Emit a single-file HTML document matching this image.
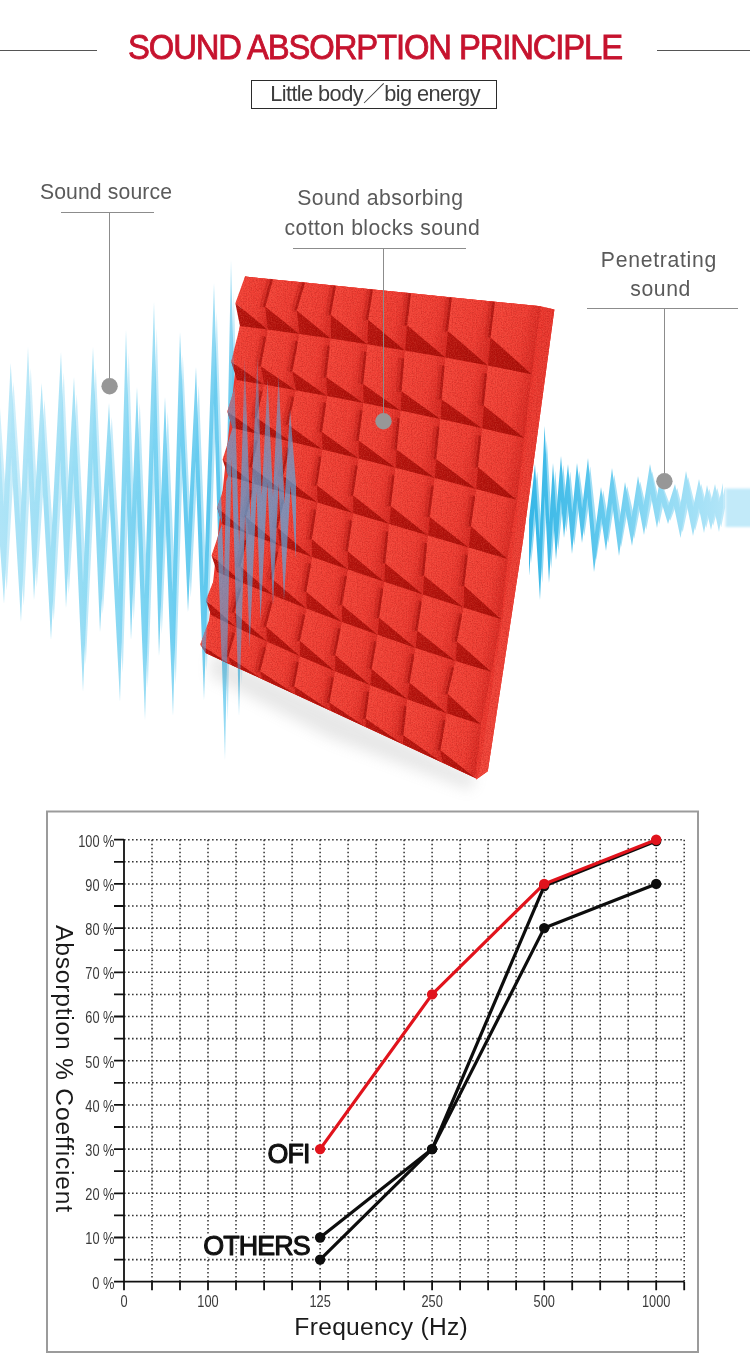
<!DOCTYPE html>
<html lang="en"><head><meta charset="utf-8"><title>Sound absorption principle</title>
<style>
html,body{margin:0;padding:0;background:#fff}
body{width:750px;height:1360px;position:relative;overflow:hidden;font-family:"Liberation Sans","Noto Sans CJK SC",sans-serif}
.hl{position:absolute;height:1px;background:#555}
#title{position:absolute;left:127.8px;top:27.1px;font-size:35.3px;line-height:40px;color:#c6132e;letter-spacing:-1.2px;white-space:nowrap;-webkit-text-stroke:0.85px #c6132e;transform:scaleX(0.929);transform-origin:0 0}
#sub{position:absolute;left:251px;top:80px;width:244px;height:27px;border:1px solid #2b2b2b;box-sizing:content-box;font-size:21.8px;line-height:27px;color:#3d3d3d;white-space:nowrap;letter-spacing:-0.6px}
#sub span{position:absolute;left:18.2px;top:-1.3px}
.lab{position:absolute;text-align:center;font-size:21.2px;line-height:28px;color:#5a5a5a;white-space:nowrap}
svg{position:absolute;left:0;top:0}
.tk{font-size:15.6px;fill:#3a3a3a;font-family:"Liberation Sans",sans-serif}
.axt{font-size:24.6px;fill:#1a1a1a;font-family:"Liberation Sans",sans-serif}
.big{font-size:27.3px;font-family:"Liberation Sans",sans-serif;letter-spacing:-0.9px}
.big{fill:#111;stroke:#111;stroke-width:1.1px;stroke-linejoin:round}
</style></head>
<body>
<svg width="750" height="1360" viewBox="0 0 750 1360">
<defs>
<filter id="blur8" x="-30%" y="-30%" width="160%" height="160%"><feGaussianBlur stdDeviation="7"/></filter>
<filter id="grain" x="0" y="0" width="100%" height="100%" color-interpolation-filters="sRGB"><feTurbulence type="fractalNoise" baseFrequency="0.85" numOctaves="2" seed="7" result="n"/><feColorMatrix in="n" type="matrix" values="0 0 0 0 1  0 0 0 0 0.55  0 0 0 0 0.45  0 0 0 1.6 -0.62"/></filter>
<filter id="grain2" x="0" y="0" width="100%" height="100%" color-interpolation-filters="sRGB"><feTurbulence type="fractalNoise" baseFrequency="0.8" numOctaves="2" seed="23" result="n"/><feColorMatrix in="n" type="matrix" values="0 0 0 0 0.55  0 0 0 0 0.02  0 0 0 0 0.02  0 0 0 1.6 -0.66"/></filter>
<filter id="halo" x="-10%" y="-10%" width="120%" height="120%" color-interpolation-filters="sRGB"><feMorphology in="SourceAlpha" operator="dilate" radius="2.4" result="d"/><feGaussianBlur in="d" stdDeviation="0.6" result="b"/><feFlood flood-color="#fff"/><feComposite in2="b" operator="in" result="h"/><feMerge><feMergeNode in="h"/><feMergeNode in="h"/><feMergeNode in="SourceGraphic"/></feMerge></filter>
<filter id="blur1" x="-30%" y="-30%" width="160%" height="160%"><feGaussianBlur stdDeviation="1.2"/></filter>
<linearGradient id="gT" x1="0" y1="0" x2="1" y2="0.3"><stop offset="0" stop-color="#f5473b"/><stop offset="0.7" stop-color="#ef3d33"/><stop offset="1" stop-color="#d92b24"/></linearGradient>
<linearGradient id="gR" x1="0" y1="0" x2="1" y2="0"><stop offset="0" stop-color="#ee3a34"/><stop offset="0.7" stop-color="#e8342e"/><stop offset="1" stop-color="#d22a24"/></linearGradient>
<linearGradient id="gB" x1="0" y1="0" x2="1" y2="0.4"><stop offset="0" stop-color="#b9150f"/><stop offset="1" stop-color="#aa0e08"/></linearGradient>
<linearGradient id="gside" x1="0" y1="0" x2="1" y2="0"><stop offset="0" stop-color="#f3473c"/><stop offset="1" stop-color="#e9372e"/></linearGradient>
<linearGradient id="gwL" gradientUnits="userSpaceOnUse" x1="0" y1="0" x2="245" y2="0"><stop offset="0" stop-color="#aee4f7"/><stop offset="0.4" stop-color="#8cd9f3"/><stop offset="0.7" stop-color="#6acdf0"/><stop offset="1" stop-color="#4cc0eb"/></linearGradient>
<linearGradient id="gwPale" gradientUnits="userSpaceOnUse" x1="0" y1="0" x2="245" y2="0"><stop offset="0" stop-color="#c9edfa"/><stop offset="0.5" stop-color="#bce8f9"/><stop offset="1" stop-color="#a5e0f6"/></linearGradient>
<linearGradient id="gmL" gradientUnits="userSpaceOnUse" x1="0" y1="255" x2="0" y2="770"><stop offset="0" stop-color="#fff" stop-opacity="0.45"/><stop offset="0.25" stop-color="#fff" stop-opacity="0.8"/><stop offset="0.5" stop-color="#fff" stop-opacity="1"/><stop offset="0.75" stop-color="#fff" stop-opacity="0.95"/><stop offset="1" stop-color="#fff" stop-opacity="0.45"/></linearGradient>
<mask id="mL" maskUnits="userSpaceOnUse" x="-10" y="200" width="400" height="620"><rect x="-10" y="200" width="400" height="620" fill="url(#gmL)"/></mask>
<linearGradient id="gwP" gradientUnits="userSpaceOnUse" x1="0" y1="340" x2="0" y2="770"><stop offset="0" stop-color="#4cb2ee" stop-opacity="0.2"/><stop offset="0.2" stop-color="#52b0ea" stop-opacity="0.58"/><stop offset="0.4" stop-color="#52b0ea" stop-opacity="0.68"/><stop offset="0.55" stop-color="#52b0ea" stop-opacity="0.62"/><stop offset="0.75" stop-color="#4cb2ee" stop-opacity="0.5"/><stop offset="1" stop-color="#4cb2ee" stop-opacity="0.42"/></linearGradient>
<linearGradient id="gwR" gradientUnits="userSpaceOnUse" x1="525" y1="0" x2="730" y2="0"><stop offset="0" stop-color="#35b6e6"/><stop offset="0.3" stop-color="#55c4ec"/><stop offset="0.6" stop-color="#8ad8f3"/><stop offset="1" stop-color="#b5e6f8"/></linearGradient>
<linearGradient id="gwRp" gradientUnits="userSpaceOnUse" x1="525" y1="0" x2="730" y2="0"><stop offset="0" stop-color="#8fd8f3"/><stop offset="0.5" stop-color="#a8e1f6"/><stop offset="1" stop-color="#c2ebfa"/></linearGradient>
<clipPath id="cpanel"><polygon points="245,276.6 273,279.4 305,282.6 336,285.7 373,289.5 411,293.3 452,297.4 495,301.7 540.8,306.3 554.4,309.6 523.1,540 487.8,771.2 476.2,779.6 475.4,777.9 442.2,762.5 402.9,744.3 365.7,727.1 330.6,710.8 295.4,694.5 262.3,679.2 231.3,664.9 205.7,653 200.2,644.4 211,615 205.9,600.2 217,572 211.6,555.6 222,524 217.2,507.6 228,476 222.6,459.6 232.5,428 227.3,411.6 237,380 231.2,361.7 240,326 235.4,303.2 245,276.6"/></clipPath>
</defs>

<g id="wavesback"><polygon points="-1.2,389.8 6.4,504.7 13.5,381.8 23,520.2 30.8,367.8 37.5,502.6 44.5,399.4 53.6,543.2 63.8,372.2 69.7,507.5 76.8,394.2 85.8,574.8 95.8,367.8 103.6,539.4 111.8,417 121.6,584.4 128.8,352.8 134.4,522.5 139.8,403 147.5,591.5 156.8,328.2 162.5,534.7 167.8,411.8 175.3,592.8 182.8,354.6 191,533 198.8,385.4 206.7,591 216.8,311.4 227.1,619.7 233.8,291.2 241.8,588.9 247.6,377.4 252.8,554.7 260.3,376.6 264.1,531.6 270.4,395.9 275.8,528.1 281.4,392.4 287.1,531.4 292.8,422.3 298.8,488 298.8,553.6 293.1,466.5 286.8,587.2 281.4,455.6 275.8,591.4 270.2,455.4 263.3,604.8 259.6,454.9 252.4,627.5 247.7,468.8 241.8,684.6 234.2,404.3 227.8,721.6 216.7,393.9 206.8,671.2 198.3,453 190.8,597.3 183.4,438.8 175.8,684.6 167.8,493.4 161.8,634.2 156.4,441.6 147.8,688 139.6,490.5 133.8,620.8 128.9,474.4 122.8,672.9 111.6,482.3 102.8,614.1 95.7,458.9 85.8,664.5 76.3,474.2 68.8,593.9 63.1,463 53.8,620.8 44.4,473.9 36.8,587.2 30.8,467.7 23.8,605.7 14,464.6 6.8,590.6 -1.2,490.2" fill="url(#gwPale)" mask="url(#mL)"/><polygon points="-4,372 3.6,506.4 10.7,363 20.2,523.8 28,347 34.7,502.1 41.7,383 50.8,548.6 61,352 66.9,505.7 74,377 83,583.1 93,347 100.9,540.4 109,403 118.7,590.4 126,330 131.7,517.1 137,387 144.7,595 154,302 159.9,527.4 165,397 172.4,593 180,332 188.3,524.5 196,367 203.9,586.6 214,283 224.1,610.1 231,260 239.1,574.1 244.8,358 250.2,542.1 257.5,357 261.5,517.5 267.6,379 273,516.4 278.6,375 284.4,522.7 290,409 296,484.5 296,560 290.4,469.9 284,600 278.6,462.8 273,605 267.4,463.6 260.5,621 256.7,468.4 249.6,648 245,489.9 239,716 231.5,425.9 225,760 213.9,403 204,700 195.4,460.7 188,612 180.8,445.2 173,716 164.9,504.7 159,656 153.6,448.7 145,720 136.8,498.4 131,640 126.2,481.2 120,702 108.7,484.5 100,632 92.9,458.1 83,692 73.4,472.9 66,608 60.3,459.3 51,640 41.6,469.9 34,600 28,462.1 21,622 11.2,457.5 4,604 -4,488" fill="url(#gwL)" mask="url(#mL)"/><polygon points="531.2,517.5 537.2,471.6 541.7,532.9 546.8,440.4 551.6,519 555.2,470.7 558.5,511.5 563.2,465 566.6,499.6 570.2,471.6 574.4,511.2 579.2,470.7 584.3,507.7 590.2,466.6 597,528.7 603.2,490.4 607.8,516.1 614.2,474.8 621.4,519.1 627.2,486.3 633.8,515.1 640.2,481.4 645.7,505.2 652.2,471.6 658.9,499.7 662.2,483.9 670.3,505.8 677.2,488 682.1,506.9 688.2,477.3 695.4,506.4 701.2,483.9 706,502.4 709.2,488.8 713.1,502.6 717.2,488 721.1,502.5 725.2,487.1 725.2,507.2 721.2,527.3 717.1,511.9 713.2,525.7 709.7,513.4 706.2,528.1 701.1,508.1 695.2,530.6 688.7,503.8 682.7,532.2 676,505.9 670.2,520.8 663.7,502.9 659.2,524 652.7,496.3 646.2,529.8 640.6,505.5 634.2,538.8 627.8,510.3 621.2,547 614.3,503.9 608.2,542.9 603.4,516.1 596.2,560.1 589.6,499.2 584.2,536.3 579.5,501.5 574.2,545.4 569.8,503.8 566.2,532.2 563.2,501.3 558.2,550.3 555.3,514.9 551.2,569.1 546.9,497.9 542.2,583.1 536.7,507.9 531.2,563.4" fill="url(#gwRp)"/><polygon points="529,520 535,464 539.5,539.4 544.6,426 549.4,522.5 553,463 556.3,513.2 561,456 564.4,498.7 568,464 572.2,512.8 577,463 582.1,508.6 588,458 594.8,534.3 601,487 605.7,518.8 612,468 619.2,522.6 625,482 631.6,517.6 638,476 643.5,505.6 650,464 656.7,498.8 660,479 668.1,506.1 675,484 679.9,507.6 686,471 693.2,507 699,479 703.8,502.1 707,485 710.9,502.3 715,484 718.9,502.2 723,483 723,507.5 719,532 714.9,512.8 711,530 707.5,514.6 704,533 698.9,508 693,536 686.4,502.7 680.5,538 673.8,505.5 668,524 661.4,501.9 657,528 650.5,493.7 644,535 638.4,504.9 632,546 625.5,510.7 619,556 612.1,502.8 606,551 601.2,517.8 594,572 587.4,497.2 582,543 577.2,500 572,554 567.6,502.9 564,538 560.9,499.8 556,560 553.1,516.4 549,583 544.7,495.4 540,600 534.5,507.9 529,576" fill="url(#gwR)"/><rect x="725.5" y="488.5" width="30" height="38.5" fill="#bfe9f9" opacity="0.95" filter="url(#blur1)"/></g>
<g id="panel"><polygon points="212,652 476,776 470,790 330,738 210,676" fill="#8a8a8a" opacity="0.2" filter="url(#blur8)"/><polygon points="245,276.6 540.8,306.3 554.4,309.6 523.1,540 487.8,771.2 476.2,779.6 475.4,777.9 205.7,653" fill="#ec382f"/><polygon points="545.5,307.4 554.4,309.6 523.1,540 487.8,771.2 476.2,779.6 479.5,771 514.5,540" fill="url(#gside)"/><polygon points="245,276.6 273,279.4 305,282.6 336,285.7 373,289.5 411,293.3 452,297.4 495,301.7 540.8,306.3 531.9,374.4 524.4,438.1 516.9,500 507.5,559 501.2,619.3 491.6,671.9 481.1,724.4 475.4,777.9 442.2,762.5 402.9,744.3 365.7,727.1 330.6,710.8 295.4,694.5 262.3,679.2 231.3,664.9 205.7,653 211,615 217,572 222,524 228,476 232.5,428 237,380 240,326" fill="#ee3b32"/><polygon points="211,615 236.6,627.4 231.3,664.9 200.2,644.4" fill="url(#gT)"/><polygon points="200.2,644.4 205.7,653 231.3,664.9" fill="url(#gB)"/><polygon points="236.6,627.4 267.5,641.8 262.3,679.2 228.4,656.8" fill="url(#gT)"/><polygon points="228.4,656.8 231.3,664.9 262.3,679.2" fill="url(#gB)"/><path d="M231.6 634.9L225.8 654.8" stroke="#a5120d" stroke-opacity="0.22" stroke-width="6" stroke-linecap="round" fill="none"/><path d="M233.5 633.9L227.3 655.8" stroke="#a5120d" stroke-opacity="0.68" stroke-width="2.4" stroke-linecap="round" fill="none"/><polygon points="267.5,641.8 300,656.3 295.4,694.5 260.3,671.3" fill="url(#gT)"/><polygon points="260.3,671.3 262.3,679.2 295.4,694.5" fill="url(#gB)"/><path d="M262.7 649.3L257.7 669.3" stroke="#a5120d" stroke-opacity="0.22" stroke-width="6" stroke-linecap="round" fill="none"/><path d="M264.6 648.3L259.2 670.3" stroke="#a5120d" stroke-opacity="0.68" stroke-width="2.4" stroke-linecap="round" fill="none"/><polygon points="300,656.3 335.1,671.2 330.6,710.8 294.3,686.6" fill="url(#gT)"/><polygon points="294.3,686.6 295.4,694.5 330.6,710.8" fill="url(#gB)"/><path d="M295.5 664L291.7 684.6" stroke="#a5120d" stroke-opacity="0.22" stroke-width="6" stroke-linecap="round" fill="none"/><path d="M297.4 663L293.2 685.6" stroke="#a5120d" stroke-opacity="0.68" stroke-width="2.4" stroke-linecap="round" fill="none"/><polygon points="335.1,671.2 370.2,685.3 365.7,727.1 329.4,702.6" fill="url(#gT)"/><polygon points="329.4,702.6 330.6,710.8 365.7,727.1" fill="url(#gB)"/><path d="M330.6 679.1L326.8 700.6" stroke="#a5120d" stroke-opacity="0.22" stroke-width="6" stroke-linecap="round" fill="none"/><path d="M332.5 678.1L328.3 701.6" stroke="#a5120d" stroke-opacity="0.68" stroke-width="2.4" stroke-linecap="round" fill="none"/><polygon points="370.2,685.3 407.4,699.3 402.9,744.3 365.6,718.6" fill="url(#gT)"/><polygon points="365.6,718.6 365.7,727.1 402.9,744.3" fill="url(#gB)"/><path d="M366 693.6L363 716.6" stroke="#a5120d" stroke-opacity="0.22" stroke-width="6" stroke-linecap="round" fill="none"/><path d="M367.9 692.6L364.5 717.6" stroke="#a5120d" stroke-opacity="0.68" stroke-width="2.4" stroke-linecap="round" fill="none"/><polygon points="407.4,699.3 446.8,713.2 442.2,762.5 403.3,735.3" fill="url(#gT)"/><polygon points="403.3,735.3 402.9,744.3 442.2,762.5" fill="url(#gB)"/><path d="M403.3 708.2L400.7 733.3" stroke="#a5120d" stroke-opacity="0.22" stroke-width="6" stroke-linecap="round" fill="none"/><path d="M405.2 707.2L402.2 734.3" stroke="#a5120d" stroke-opacity="0.68" stroke-width="2.4" stroke-linecap="round" fill="none"/><polygon points="446.8,713.2 481.1,724.4 475.4,777.9 440.4,750.2" fill="url(#gT)"/><polygon points="440.4,750.2 442.2,762.5 475.4,777.9" fill="url(#gB)"/><path d="M442.2 722.3L437.8 748.2" stroke="#a5120d" stroke-opacity="0.22" stroke-width="6" stroke-linecap="round" fill="none"/><path d="M444.1 721.3L439.3 749.2" stroke="#a5120d" stroke-opacity="0.68" stroke-width="2.4" stroke-linecap="round" fill="none"/><polygon points="217,572 243,583 236.6,627.4 205.9,600.2" fill="url(#gT)"/><polygon points="205.9,600.2 211,615 236.6,627.4" fill="url(#gB)"/><polygon points="243,583 274.2,595.8 267.5,641.8 234.3,612.6" fill="url(#gT)"/><polygon points="234.3,612.6 236.6,627.4 267.5,641.8" fill="url(#gB)"/><path d="M237.9 590.5L231.7 610.6" stroke="#a5120d" stroke-opacity="0.22" stroke-width="6" stroke-linecap="round" fill="none"/><path d="M239.8 589.5L233.2 611.6" stroke="#a5120d" stroke-opacity="0.68" stroke-width="2.4" stroke-linecap="round" fill="none"/><polygon points="274.2,595.8 306.6,608.6 300,656.3 266.1,626.6" fill="url(#gT)"/><polygon points="266.1,626.6 267.5,641.8 300,656.3" fill="url(#gB)"/><path d="M269.2 603.5L263.5 624.6" stroke="#a5120d" stroke-opacity="0.22" stroke-width="6" stroke-linecap="round" fill="none"/><path d="M271.1 602.5L265 625.6" stroke="#a5120d" stroke-opacity="0.68" stroke-width="2.4" stroke-linecap="round" fill="none"/><polygon points="306.6,608.6 342.1,622 335.1,671.2 299.9,640.7" fill="url(#gT)"/><polygon points="299.9,640.7 300,656.3 335.1,671.2" fill="url(#gB)"/><path d="M301.9 616.6L297.3 638.7" stroke="#a5120d" stroke-opacity="0.22" stroke-width="6" stroke-linecap="round" fill="none"/><path d="M303.8 615.6L298.8 639.7" stroke="#a5120d" stroke-opacity="0.68" stroke-width="2.4" stroke-linecap="round" fill="none"/><polygon points="342.1,622 377.7,634.8 370.2,685.3 335.3,655.1" fill="url(#gT)"/><polygon points="335.3,655.1 335.1,671.2 370.2,685.3" fill="url(#gB)"/><path d="M337.4 630.3L332.7 653.1" stroke="#a5120d" stroke-opacity="0.22" stroke-width="6" stroke-linecap="round" fill="none"/><path d="M339.3 629.3L334.2 654.1" stroke="#a5120d" stroke-opacity="0.68" stroke-width="2.4" stroke-linecap="round" fill="none"/><polygon points="377.7,634.8 415.6,647.9 407.4,699.3 371.7,669" fill="url(#gT)"/><polygon points="371.7,669 370.2,685.3 407.4,699.3" fill="url(#gB)"/><path d="M373.2 643.4L369.1 667" stroke="#a5120d" stroke-opacity="0.22" stroke-width="6" stroke-linecap="round" fill="none"/><path d="M375.1 642.4L370.6 668" stroke="#a5120d" stroke-opacity="0.68" stroke-width="2.4" stroke-linecap="round" fill="none"/><polygon points="415.6,647.9 455.6,660.9 446.8,713.2 409.6,682.8" fill="url(#gT)"/><polygon points="409.6,682.8 407.4,699.3 446.8,713.2" fill="url(#gB)"/><path d="M411.1 656.5L407 680.8" stroke="#a5120d" stroke-opacity="0.22" stroke-width="6" stroke-linecap="round" fill="none"/><path d="M413 655.5L408.5 681.8" stroke="#a5120d" stroke-opacity="0.68" stroke-width="2.4" stroke-linecap="round" fill="none"/><polygon points="455.6,660.9 491.6,671.9 481.1,724.4 447.8,694" fill="url(#gT)"/><polygon points="447.8,694 446.8,713.2 481.1,724.4" fill="url(#gB)"/><path d="M450.7 669.2L445.2 692" stroke="#a5120d" stroke-opacity="0.22" stroke-width="6" stroke-linecap="round" fill="none"/><path d="M452.6 668.2L446.7 693" stroke="#a5120d" stroke-opacity="0.68" stroke-width="2.4" stroke-linecap="round" fill="none"/><polygon points="222,524 248.5,533.9 243,583 211.6,555.6" fill="url(#gT)"/><polygon points="211.6,555.6 217,572 243,583" fill="url(#gB)"/><polygon points="248.5,533.9 279.9,545.4 274.2,595.8 240.4,566.6" fill="url(#gT)"/><polygon points="240.4,566.6 243,583 274.2,595.8" fill="url(#gB)"/><path d="M243.5 542.1L237.8 564.6" stroke="#a5120d" stroke-opacity="0.22" stroke-width="6" stroke-linecap="round" fill="none"/><path d="M245.4 541.1L239.3 565.6" stroke="#a5120d" stroke-opacity="0.68" stroke-width="2.4" stroke-linecap="round" fill="none"/><polygon points="279.9,545.4 312.2,557 306.6,608.6 272.2,579.1" fill="url(#gT)"/><polygon points="272.2,579.1 274.2,595.8 306.6,608.6" fill="url(#gB)"/><path d="M275 553.8L269.6 577.1" stroke="#a5120d" stroke-opacity="0.22" stroke-width="6" stroke-linecap="round" fill="none"/><path d="M276.9 552.8L271.1 578.1" stroke="#a5120d" stroke-opacity="0.68" stroke-width="2.4" stroke-linecap="round" fill="none"/><polygon points="312.2,557 348.1,569.5 342.1,622 306.3,591.7" fill="url(#gT)"/><polygon points="306.3,591.7 306.6,608.6 342.1,622" fill="url(#gB)"/><path d="M307.7 565.6L303.7 589.7" stroke="#a5120d" stroke-opacity="0.22" stroke-width="6" stroke-linecap="round" fill="none"/><path d="M309.6 564.6L305.2 590.7" stroke="#a5120d" stroke-opacity="0.68" stroke-width="2.4" stroke-linecap="round" fill="none"/><polygon points="348.1,569.5 384.3,581.8 377.7,634.8 342,604.9" fill="url(#gT)"/><polygon points="342,604.9 342.1,622 377.7,634.8" fill="url(#gB)"/><path d="M343.6 578.3L339.4 602.9" stroke="#a5120d" stroke-opacity="0.22" stroke-width="6" stroke-linecap="round" fill="none"/><path d="M345.5 577.3L340.9 603.9" stroke="#a5120d" stroke-opacity="0.68" stroke-width="2.4" stroke-linecap="round" fill="none"/><polygon points="384.3,581.8 422.9,594.6 415.6,647.9 379.1,617.8" fill="url(#gT)"/><polygon points="379.1,617.8 377.7,634.8 415.6,647.9" fill="url(#gB)"/><path d="M380 590.7L376.5 615.8" stroke="#a5120d" stroke-opacity="0.22" stroke-width="6" stroke-linecap="round" fill="none"/><path d="M381.9 589.7L378 616.8" stroke="#a5120d" stroke-opacity="0.68" stroke-width="2.4" stroke-linecap="round" fill="none"/><polygon points="422.9,594.6 463.5,607.6 455.6,660.9 417.4,630.7" fill="url(#gT)"/><polygon points="417.4,630.7 415.6,647.9 455.6,660.9" fill="url(#gB)"/><path d="M418.5 603.5L414.8 628.7" stroke="#a5120d" stroke-opacity="0.22" stroke-width="6" stroke-linecap="round" fill="none"/><path d="M420.4 602.5L416.3 629.7" stroke="#a5120d" stroke-opacity="0.68" stroke-width="2.4" stroke-linecap="round" fill="none"/><polygon points="463.5,607.6 501.2,619.3 491.6,671.9 457,641.5" fill="url(#gT)"/><polygon points="457,641.5 455.6,660.9 491.6,671.9" fill="url(#gB)"/><path d="M458.9 616.1L454.4 639.5" stroke="#a5120d" stroke-opacity="0.22" stroke-width="6" stroke-linecap="round" fill="none"/><path d="M460.8 615.1L455.9 640.5" stroke="#a5120d" stroke-opacity="0.68" stroke-width="2.4" stroke-linecap="round" fill="none"/><polygon points="228,476 254.5,483.9 248.5,533.9 217.2,507.6" fill="url(#gT)"/><polygon points="217.2,507.6 222,524 248.5,533.9" fill="url(#gB)"/><polygon points="254.5,483.9 285.7,493.1 279.9,545.4 246.1,517.2" fill="url(#gT)"/><polygon points="246.1,517.2 248.5,533.9 279.9,545.4" fill="url(#gB)"/><path d="M249.5 492.2L243.5 515.2" stroke="#a5120d" stroke-opacity="0.22" stroke-width="6" stroke-linecap="round" fill="none"/><path d="M251.4 491.2L245 516.2" stroke="#a5120d" stroke-opacity="0.68" stroke-width="2.4" stroke-linecap="round" fill="none"/><polygon points="285.7,493.1 317.5,502.6 312.2,557 277.8,528.1" fill="url(#gT)"/><polygon points="277.8,528.1 279.9,545.4 312.2,557" fill="url(#gB)"/><path d="M280.8 501.8L275.2 526.1" stroke="#a5120d" stroke-opacity="0.22" stroke-width="6" stroke-linecap="round" fill="none"/><path d="M282.7 500.8L276.7 527.1" stroke="#a5120d" stroke-opacity="0.68" stroke-width="2.4" stroke-linecap="round" fill="none"/><polygon points="317.5,502.6 353.2,513.2 348.1,569.5 311.8,539.3" fill="url(#gT)"/><polygon points="311.8,539.3 312.2,557 348.1,569.5" fill="url(#gB)"/><path d="M313 511.6L309.2 537.3" stroke="#a5120d" stroke-opacity="0.22" stroke-width="6" stroke-linecap="round" fill="none"/><path d="M314.9 510.6L310.7 538.3" stroke="#a5120d" stroke-opacity="0.68" stroke-width="2.4" stroke-linecap="round" fill="none"/><polygon points="353.2,513.2 389.3,523.9 384.3,581.8 347.7,551.2" fill="url(#gT)"/><polygon points="347.7,551.2 348.1,569.5 384.3,581.8" fill="url(#gB)"/><path d="M348.8 522.5L345.1 549.2" stroke="#a5120d" stroke-opacity="0.22" stroke-width="6" stroke-linecap="round" fill="none"/><path d="M350.7 521.5L346.6 550.2" stroke="#a5120d" stroke-opacity="0.68" stroke-width="2.4" stroke-linecap="round" fill="none"/><polygon points="389.3,523.9 428,535.4 422.9,594.6 385.1,563.2" fill="url(#gT)"/><polygon points="385.1,563.2 384.3,581.8 422.9,594.6" fill="url(#gB)"/><path d="M385.2 533.6L382.5 561.2" stroke="#a5120d" stroke-opacity="0.22" stroke-width="6" stroke-linecap="round" fill="none"/><path d="M387.1 532.6L384 562.2" stroke="#a5120d" stroke-opacity="0.68" stroke-width="2.4" stroke-linecap="round" fill="none"/><polygon points="428,535.4 468.7,547.5 463.5,607.6 424,575.6" fill="url(#gT)"/><polygon points="424,575.6 422.9,594.6 463.5,607.6" fill="url(#gB)"/><path d="M423.9 545.2L421.4 573.6" stroke="#a5120d" stroke-opacity="0.22" stroke-width="6" stroke-linecap="round" fill="none"/><path d="M425.8 544.2L422.9 574.6" stroke="#a5120d" stroke-opacity="0.68" stroke-width="2.4" stroke-linecap="round" fill="none"/><polygon points="468.7,547.5 507.5,559 501.2,619.3 464.2,585.8" fill="url(#gT)"/><polygon points="464.2,585.8 463.5,607.6 501.2,619.3" fill="url(#gB)"/><path d="M464.5 556.9L461.6 583.8" stroke="#a5120d" stroke-opacity="0.22" stroke-width="6" stroke-linecap="round" fill="none"/><path d="M466.4 555.9L463.1 584.8" stroke="#a5120d" stroke-opacity="0.68" stroke-width="2.4" stroke-linecap="round" fill="none"/><polygon points="232.5,428 259.5,434.3 254.5,483.9 222.6,459.6" fill="url(#gT)"/><polygon points="222.6,459.6 228,476 254.5,483.9" fill="url(#gB)"/><polygon points="259.5,434.3 291,441.8 285.7,493.1 251.7,467.3" fill="url(#gT)"/><polygon points="251.7,467.3 254.5,483.9 285.7,493.1" fill="url(#gB)"/><path d="M254.5 442.6L249.1 465.3" stroke="#a5120d" stroke-opacity="0.22" stroke-width="6" stroke-linecap="round" fill="none"/><path d="M256.4 441.6L250.6 466.3" stroke="#a5120d" stroke-opacity="0.68" stroke-width="2.4" stroke-linecap="round" fill="none"/><polygon points="291,441.8 322.6,449.5 317.5,502.6 283.2,476.1" fill="url(#gT)"/><polygon points="283.2,476.1 285.7,493.1 317.5,502.6" fill="url(#gB)"/><path d="M286.1 450.4L280.6 474.1" stroke="#a5120d" stroke-opacity="0.22" stroke-width="6" stroke-linecap="round" fill="none"/><path d="M288 449.4L282.1 475.1" stroke="#a5120d" stroke-opacity="0.68" stroke-width="2.4" stroke-linecap="round" fill="none"/><polygon points="322.6,449.5 358.8,458.5 353.2,513.2 317,485.3" fill="url(#gT)"/><polygon points="317,485.3 317.5,502.6 353.2,513.2" fill="url(#gB)"/><path d="M318.2 458.4L314.4 483.3" stroke="#a5120d" stroke-opacity="0.22" stroke-width="6" stroke-linecap="round" fill="none"/><path d="M320.1 457.4L315.9 484.3" stroke="#a5120d" stroke-opacity="0.68" stroke-width="2.4" stroke-linecap="round" fill="none"/><polygon points="358.8,458.5 395.5,467.8 389.3,523.9 353.2,495.4" fill="url(#gT)"/><polygon points="353.2,495.4 353.2,513.2 389.3,523.9" fill="url(#gB)"/><path d="M354.4 467.6L350.6 493.4" stroke="#a5120d" stroke-opacity="0.22" stroke-width="6" stroke-linecap="round" fill="none"/><path d="M356.3 466.6L352.1 494.4" stroke="#a5120d" stroke-opacity="0.68" stroke-width="2.4" stroke-linecap="round" fill="none"/><polygon points="395.5,467.8 434.9,478 428,535.4 390.8,505.9" fill="url(#gT)"/><polygon points="390.8,505.9 389.3,523.9 428,535.4" fill="url(#gB)"/><path d="M391.3 477.2L388.2 503.9" stroke="#a5120d" stroke-opacity="0.22" stroke-width="6" stroke-linecap="round" fill="none"/><path d="M393.2 476.2L389.7 504.9" stroke="#a5120d" stroke-opacity="0.68" stroke-width="2.4" stroke-linecap="round" fill="none"/><polygon points="434.9,478 476.3,489 468.7,547.5 429.7,516.9" fill="url(#gT)"/><polygon points="429.7,516.9 428,535.4 468.7,547.5" fill="url(#gB)"/><path d="M430.5 487.6L427.1 514.9" stroke="#a5120d" stroke-opacity="0.22" stroke-width="6" stroke-linecap="round" fill="none"/><path d="M432.4 486.6L428.6 515.9" stroke="#a5120d" stroke-opacity="0.68" stroke-width="2.4" stroke-linecap="round" fill="none"/><polygon points="476.3,489 516.9,500 507.5,559 470.9,526.3" fill="url(#gT)"/><polygon points="470.9,526.3 468.7,547.5 507.5,559" fill="url(#gB)"/><path d="M471.9 498.2L468.3 524.3" stroke="#a5120d" stroke-opacity="0.22" stroke-width="6" stroke-linecap="round" fill="none"/><path d="M473.8 497.2L469.8 525.3" stroke="#a5120d" stroke-opacity="0.68" stroke-width="2.4" stroke-linecap="round" fill="none"/><polygon points="237,380 264.2,384.6 259.5,434.3 227.3,411.6" fill="url(#gT)"/><polygon points="227.3,411.6 232.5,428 259.5,434.3" fill="url(#gB)"/><polygon points="264.2,384.6 295.8,390.3 291,441.8 256.6,417.8" fill="url(#gT)"/><polygon points="256.6,417.8 259.5,434.3 291,441.8" fill="url(#gB)"/><path d="M259.4 392.9L254 415.8" stroke="#a5120d" stroke-opacity="0.22" stroke-width="6" stroke-linecap="round" fill="none"/><path d="M261.3 391.9L255.5 416.8" stroke="#a5120d" stroke-opacity="0.68" stroke-width="2.4" stroke-linecap="round" fill="none"/><polygon points="295.8,390.3 327.2,396.1 322.6,449.5 288.2,424.7" fill="url(#gT)"/><polygon points="288.2,424.7 291,441.8 322.6,449.5" fill="url(#gB)"/><path d="M290.9 398.8L285.6 422.7" stroke="#a5120d" stroke-opacity="0.22" stroke-width="6" stroke-linecap="round" fill="none"/><path d="M292.8 397.8L287.1 423.7" stroke="#a5120d" stroke-opacity="0.68" stroke-width="2.4" stroke-linecap="round" fill="none"/><polygon points="327.2,396.1 363.5,403.1 358.8,458.5 322,432.1" fill="url(#gT)"/><polygon points="322,432.1 322.6,449.5 358.8,458.5" fill="url(#gB)"/><path d="M322.9 405L319.4 430.1" stroke="#a5120d" stroke-opacity="0.22" stroke-width="6" stroke-linecap="round" fill="none"/><path d="M324.8 404L320.9 431.1" stroke="#a5120d" stroke-opacity="0.68" stroke-width="2.4" stroke-linecap="round" fill="none"/><polygon points="363.5,403.1 400.6,410.6 395.5,467.8 358.6,440.5" fill="url(#gT)"/><polygon points="358.6,440.5 358.8,458.5 395.5,467.8" fill="url(#gB)"/><path d="M359.3 412.3L356 438.5" stroke="#a5120d" stroke-opacity="0.22" stroke-width="6" stroke-linecap="round" fill="none"/><path d="M361.2 411.3L357.5 439.5" stroke="#a5120d" stroke-opacity="0.68" stroke-width="2.4" stroke-linecap="round" fill="none"/><polygon points="400.6,410.6 440.4,419 434.9,478 396.7,449.4" fill="url(#gT)"/><polygon points="396.7,449.4 395.5,467.8 434.9,478" fill="url(#gB)"/><path d="M396.5 420.2L394.1 447.4" stroke="#a5120d" stroke-opacity="0.22" stroke-width="6" stroke-linecap="round" fill="none"/><path d="M398.4 419.2L395.6 448.4" stroke="#a5120d" stroke-opacity="0.68" stroke-width="2.4" stroke-linecap="round" fill="none"/><polygon points="440.4,419 482.2,428.3 476.3,489 436.1,459.1" fill="url(#gT)"/><polygon points="436.1,459.1 434.9,478 476.3,489" fill="url(#gB)"/><path d="M436.2 428.8L433.5 457.1" stroke="#a5120d" stroke-opacity="0.22" stroke-width="6" stroke-linecap="round" fill="none"/><path d="M438.1 427.8L435 458.1" stroke="#a5120d" stroke-opacity="0.68" stroke-width="2.4" stroke-linecap="round" fill="none"/><polygon points="482.2,428.3 524.4,438.1 516.9,500 477.9,467.1" fill="url(#gT)"/><polygon points="477.9,467.1 476.3,489 516.9,500" fill="url(#gB)"/><path d="M478 437.8L475.3 465.1" stroke="#a5120d" stroke-opacity="0.22" stroke-width="6" stroke-linecap="round" fill="none"/><path d="M479.9 436.8L476.8 466.1" stroke="#a5120d" stroke-opacity="0.68" stroke-width="2.4" stroke-linecap="round" fill="none"/><polygon points="240,326 267.7,329.6 264.2,384.6 231.2,361.7" fill="url(#gT)"/><polygon points="231.2,361.7 237,380 264.2,384.6" fill="url(#gB)"/><polygon points="267.7,329.6 299.5,333.9 295.8,390.3 260.8,366.3" fill="url(#gT)"/><polygon points="260.8,366.3 264.2,384.6 295.8,390.3" fill="url(#gB)"/><path d="M262.9 338.6L258.2 364.3" stroke="#a5120d" stroke-opacity="0.22" stroke-width="6" stroke-linecap="round" fill="none"/><path d="M264.8 337.6L259.7 365.3" stroke="#a5120d" stroke-opacity="0.68" stroke-width="2.4" stroke-linecap="round" fill="none"/><polygon points="299.5,333.9 330.7,338.5 327.2,396.1 292.3,371.5" fill="url(#gT)"/><polygon points="292.3,371.5 295.8,390.3 327.2,396.1" fill="url(#gB)"/><path d="M294.7 343.2L289.7 369.5" stroke="#a5120d" stroke-opacity="0.22" stroke-width="6" stroke-linecap="round" fill="none"/><path d="M296.6 342.2L291.2 370.5" stroke="#a5120d" stroke-opacity="0.68" stroke-width="2.4" stroke-linecap="round" fill="none"/><polygon points="330.7,338.5 367.4,344.2 363.5,403.1 326.2,377.3" fill="url(#gT)"/><polygon points="326.2,377.3 327.2,396.1 363.5,403.1" fill="url(#gB)"/><path d="M326.5 348L323.6 375.3" stroke="#a5120d" stroke-opacity="0.22" stroke-width="6" stroke-linecap="round" fill="none"/><path d="M328.4 347L325.1 376.3" stroke="#a5120d" stroke-opacity="0.68" stroke-width="2.4" stroke-linecap="round" fill="none"/><polygon points="367.4,344.2 405,350.4 400.6,410.6 363.1,384" fill="url(#gT)"/><polygon points="363.1,384 363.5,403.1 400.6,410.6" fill="url(#gB)"/><path d="M363.3 353.9L360.5 382" stroke="#a5120d" stroke-opacity="0.22" stroke-width="6" stroke-linecap="round" fill="none"/><path d="M365.2 352.9L362 383" stroke="#a5120d" stroke-opacity="0.68" stroke-width="2.4" stroke-linecap="round" fill="none"/><polygon points="405,350.4 445.4,357.6 440.4,419 401.5,391.3" fill="url(#gT)"/><polygon points="401.5,391.3 400.6,410.6 440.4,419" fill="url(#gB)"/><path d="M401 360.4L398.9 389.3" stroke="#a5120d" stroke-opacity="0.22" stroke-width="6" stroke-linecap="round" fill="none"/><path d="M402.9 359.4L400.4 390.3" stroke="#a5120d" stroke-opacity="0.68" stroke-width="2.4" stroke-linecap="round" fill="none"/><polygon points="445.4,357.6 487.9,365.6 482.2,428.3 441.5,399.3" fill="url(#gT)"/><polygon points="441.5,399.3 440.4,419 482.2,428.3" fill="url(#gB)"/><path d="M441.4 367.7L438.9 397.3" stroke="#a5120d" stroke-opacity="0.22" stroke-width="6" stroke-linecap="round" fill="none"/><path d="M443.3 366.7L440.4 398.3" stroke="#a5120d" stroke-opacity="0.68" stroke-width="2.4" stroke-linecap="round" fill="none"/><polygon points="487.9,365.6 531.9,374.4 524.4,438.1 483.7,405.6" fill="url(#gT)"/><polygon points="483.7,405.6 482.2,428.3 524.4,438.1" fill="url(#gB)"/><path d="M483.8 375.4L481.1 403.6" stroke="#a5120d" stroke-opacity="0.22" stroke-width="6" stroke-linecap="round" fill="none"/><path d="M485.7 374.4L482.6 404.6" stroke="#a5120d" stroke-opacity="0.68" stroke-width="2.4" stroke-linecap="round" fill="none"/><polygon points="245,276.6 273,279.4 267.7,329.6 235.4,303.2" fill="url(#gT)"/><polygon points="235.4,303.2 240,326 267.7,329.6" fill="url(#gB)"/><polygon points="273,279.4 305,282.6 299.5,333.9 265.3,306.8" fill="url(#gT)"/><polygon points="265.3,306.8 267.7,329.6 299.5,333.9" fill="url(#gB)"/><path d="M269.5 281.5L262.7 304.8" stroke="#a5120d" stroke-opacity="0.22" stroke-width="6" stroke-linecap="round" fill="none"/><path d="M271.4 280.5L264.2 305.8" stroke="#a5120d" stroke-opacity="0.68" stroke-width="2.4" stroke-linecap="round" fill="none"/><polygon points="305,282.6 336,285.7 330.7,338.5 296.8,310.6" fill="url(#gT)"/><polygon points="296.8,310.6 299.5,333.9 330.7,338.5" fill="url(#gB)"/><path d="M301.5 284.7L294.2 308.6" stroke="#a5120d" stroke-opacity="0.22" stroke-width="6" stroke-linecap="round" fill="none"/><path d="M303.4 283.7L295.7 309.6" stroke="#a5120d" stroke-opacity="0.68" stroke-width="2.4" stroke-linecap="round" fill="none"/><polygon points="336,285.7 373,289.5 367.4,344.2 330.8,314.9" fill="url(#gT)"/><polygon points="330.8,314.9 330.7,338.5 367.4,344.2" fill="url(#gB)"/><path d="M332.6 287.9L328.2 312.9" stroke="#a5120d" stroke-opacity="0.22" stroke-width="6" stroke-linecap="round" fill="none"/><path d="M334.5 286.9L329.7 313.9" stroke="#a5120d" stroke-opacity="0.68" stroke-width="2.4" stroke-linecap="round" fill="none"/><polygon points="373,289.5 411,293.3 405,350.4 368.1,319.8" fill="url(#gT)"/><polygon points="368.1,319.8 367.4,344.2 405,350.4" fill="url(#gB)"/><path d="M369.6 291.7L365.5 317.8" stroke="#a5120d" stroke-opacity="0.22" stroke-width="6" stroke-linecap="round" fill="none"/><path d="M371.5 290.7L367 318.8" stroke="#a5120d" stroke-opacity="0.68" stroke-width="2.4" stroke-linecap="round" fill="none"/><polygon points="411,293.3 452,297.4 445.4,357.6 407.1,325.2" fill="url(#gT)"/><polygon points="407.1,325.2 405,350.4 445.4,357.6" fill="url(#gB)"/><path d="M407.6 295.5L404.5 323.2" stroke="#a5120d" stroke-opacity="0.22" stroke-width="6" stroke-linecap="round" fill="none"/><path d="M409.5 294.5L406 324.2" stroke="#a5120d" stroke-opacity="0.68" stroke-width="2.4" stroke-linecap="round" fill="none"/><polygon points="452,297.4 495,301.7 487.9,365.6 447.8,331" fill="url(#gT)"/><polygon points="447.8,331 445.4,357.6 487.9,365.6" fill="url(#gB)"/><path d="M448.6 299.7L445.2 329" stroke="#a5120d" stroke-opacity="0.22" stroke-width="6" stroke-linecap="round" fill="none"/><path d="M450.5 298.7L446.7 330" stroke="#a5120d" stroke-opacity="0.68" stroke-width="2.4" stroke-linecap="round" fill="none"/><polygon points="495,301.7 540.8,306.3 531.9,374.4 490.5,337.4" fill="url(#gT)"/><polygon points="490.5,337.4 487.9,365.6 531.9,374.4" fill="url(#gB)"/><path d="M491.6 304.1L487.9 335.4" stroke="#a5120d" stroke-opacity="0.22" stroke-width="6" stroke-linecap="round" fill="none"/><path d="M493.5 303.1L489.4 336.4" stroke="#a5120d" stroke-opacity="0.68" stroke-width="2.4" stroke-linecap="round" fill="none"/><g clip-path="url(#cpanel)"><rect x="195" y="265" width="370" height="525" filter="url(#grain)" opacity="0.3"/><rect x="195" y="265" width="370" height="525" filter="url(#grain2)" opacity="0.4"/></g></g>
<g id="wavesfront"><g clip-path="url(#cpanel)"><polygon points="-4,372 3.6,508.4 10.7,363 20.2,524.6 28,347 34.7,502 41.7,383 50.8,547.2 61,352 66.9,503.1 74,377 82.9,578.3 93,347 100.9,535.1 109,403 118.6,581.6 126,330 131.7,508 137,387 144.6,582.1 154,302 160,514.6 165,397 172.3,577.1 180,332 188.3,511.5 196,367 203.8,566.7 214,283 224,580 231,260 239.1,545.6 244.8,358 250.3,520 257.5,357 261.7,496.5 267.6,379 273,496.4 278.6,375 284.5,503.7 290,409 296,484.5 296,560 290.6,485.7 284,600 278.6,483.3 273,605 267.4,483.1 260.5,621 256.6,491 249.6,648 245.1,514.3 239,716 231.6,458 225,760 213.8,426.9 204,700 195.2,475.6 188,612 181,460.7 173,716 164.9,517.2 159,656 153.6,464 145,720 136.7,508.2 131,640 126.2,491.7 120,702 108.7,490.2 100,632 92.9,463.8 83,692 73.4,476.3 66,608 60.3,461.7 51,640 41.6,470.6 34,600 28,461.8 21,622 11.2,455.9 4,604 -4,488" fill="url(#gwP)"/></g></g>
<g stroke="#8c8c8c" stroke-width="1" fill="none" shape-rendering="crispEdges"><path d="M61 212.5H154M109.5 213V386"/><path d="M293 248.5H466M383.5 249V421"/><path d="M587 308.5H738M664.5 309V481"/></g><g fill="#979797"><circle cx="109.6" cy="386.2" r="8.2"/><circle cx="383.5" cy="421.2" r="8.2"/><circle cx="664.4" cy="481.2" r="8.2"/></g>
<g id="chart"><rect x="47" y="811.5" width="651" height="540.5" fill="#fff" stroke="#9b9b9b" stroke-width="2"/><path d="M152 839.7V1281.7M180 839.7V1281.7M208 839.7V1281.7M236 839.7V1281.7M264.1 839.7V1281.7M292.1 839.7V1281.7M320.1 839.7V1281.7M348.1 839.7V1281.7M376.1 839.7V1281.7M404.1 839.7V1281.7M432.1 839.7V1281.7M460.1 839.7V1281.7M488.1 839.7V1281.7M516.1 839.7V1281.7M544.2 839.7V1281.7M572.2 839.7V1281.7M600.2 839.7V1281.7M628.2 839.7V1281.7M656.2 839.7V1281.7M684.2 839.7V1281.7M124 1259.6H684.2M124 1237.5H684.2M124 1215.4H684.2M124 1193.3H684.2M124 1171.2H684.2M124 1149.1H684.2M124 1127H684.2M124 1104.9H684.2M124 1082.8H684.2M124 1060.7H684.2M124 1038.6H684.2M124 1016.5H684.2M124 994.4H684.2M124 972.3H684.2M124 950.2H684.2M124 928.1H684.2M124 906H684.2M124 883.9H684.2M124 861.8H684.2M124 839.7H684.2" stroke="#363636" stroke-width="1.55" stroke-dasharray="1.6 2.402" fill="none"/><path d="M124 839.7V1281.7H684.2M114 1281.7H124M114 1259.6H124M114 1237.5H124M114 1215.4H124M114 1193.3H124M114 1171.2H124M114 1149.1H124M114 1127H124M114 1104.9H124M114 1082.8H124M114 1060.7H124M114 1038.6H124M114 1016.5H124M114 994.4H124M114 972.3H124M114 950.2H124M114 928.1H124M114 906H124M114 883.9H124M114 861.8H124M114 839.7H124M124 1281.7V1290.2M152 1281.7V1290.2M180 1281.7V1290.2M208 1281.7V1290.2M236 1281.7V1290.2M264.1 1281.7V1290.2M292.1 1281.7V1290.2M320.1 1281.7V1290.2M348.1 1281.7V1290.2M376.1 1281.7V1290.2M404.1 1281.7V1290.2M432.1 1281.7V1290.2M460.1 1281.7V1290.2M488.1 1281.7V1290.2M516.1 1281.7V1290.2M544.2 1281.7V1290.2M572.2 1281.7V1290.2M600.2 1281.7V1290.2M628.2 1281.7V1290.2M656.2 1281.7V1290.2M684.2 1281.7V1290.2" stroke="#111" stroke-width="1.8" fill="none"/><g class="tk" text-anchor="end"><text transform="translate(114.4 1288.6) scale(0.82 1)">0 %</text><text transform="translate(114.4 1244.4) scale(0.82 1)">10 %</text><text transform="translate(114.4 1200.2) scale(0.82 1)">20 %</text><text transform="translate(114.4 1156) scale(0.82 1)">30 %</text><text transform="translate(114.4 1111.8) scale(0.82 1)">40 %</text><text transform="translate(114.4 1067.6) scale(0.82 1)">50 %</text><text transform="translate(114.4 1023.4) scale(0.82 1)">60 %</text><text transform="translate(114.4 979.2) scale(0.82 1)">70 %</text><text transform="translate(114.4 935) scale(0.82 1)">80 %</text><text transform="translate(114.4 890.8) scale(0.82 1)">90 %</text><text transform="translate(114.4 846.6) scale(0.82 1)">100 %</text></g><g class="tk" text-anchor="middle"><text transform="translate(124 1307) scale(0.82 1)">0</text><text transform="translate(208 1307) scale(0.82 1)">100</text><text transform="translate(320.1 1307) scale(0.82 1)">125</text><text transform="translate(432.1 1307) scale(0.82 1)">250</text><text transform="translate(544.2 1307) scale(0.82 1)">500</text><text transform="translate(656.2 1307) scale(0.82 1)">1000</text></g><text class="axt" transform="translate(55.5 925) rotate(90)" textLength="287" lengthAdjust="spacing">Absorption % Coefficient</text><text class="axt" x="294.3" y="1335" textLength="173.5" lengthAdjust="spacing">Frequency (Hz)</text><path d="M320.1 1237.5L432.1 1149.1L544.2 886.1L656.2 841" stroke="#0d0d0d" stroke-width="3.2" fill="none" stroke-linejoin="round"/><circle cx="320.1" cy="1237.5" r="5.2" fill="#0d0d0d"/><circle cx="432.1" cy="1149.1" r="5.2" fill="#0d0d0d"/><circle cx="544.2" cy="886.1" r="5.2" fill="#0d0d0d"/><circle cx="656.2" cy="841" r="5.2" fill="#0d0d0d"/><path d="M320.1 1259.6L432.1 1149.1L544.2 928.1L656.2 883.9" stroke="#0d0d0d" stroke-width="3.2" fill="none" stroke-linejoin="round"/><circle cx="320.1" cy="1259.6" r="5.2" fill="#0d0d0d"/><circle cx="432.1" cy="1149.1" r="5.2" fill="#0d0d0d"/><circle cx="544.2" cy="928.1" r="5.2" fill="#0d0d0d"/><circle cx="656.2" cy="883.9" r="5.2" fill="#0d0d0d"/><path d="M320.1 1149.1L432.1 994.4L544.2 883.9L656.2 839.7" stroke="#e1131c" stroke-width="3.2" fill="none" stroke-linejoin="round"/><circle cx="320.1" cy="1149.1" r="5.2" fill="#e1131c"/><circle cx="432.1" cy="994.4" r="5.2" fill="#e1131c"/><circle cx="544.2" cy="883.9" r="5.2" fill="#e1131c"/><circle cx="656.2" cy="839.7" r="5.2" fill="#e1131c"/><g filter="url(#halo)"><text class="big" transform="translate(309.7 1162.8) scale(0.985 1)" text-anchor="end">OFI</text><text class="big" transform="translate(309.9 1254.9) scale(0.985 1)" text-anchor="end">OTHERS</text></g></g>
</svg>

<div class="hl" style="left:0;width:96.8px;top:49.5px"></div>
<div class="hl" style="left:656.5px;width:94px;top:49.5px"></div>
<div id="title">SOUND ABSORPTION PRINCIPLE</div>
<div id="sub"><span>Little body／big energy</span></div>

<div class="lab" style="left:6px;width:200px;top:178.2px;letter-spacing:0.12px">Sound source</div>
<div class="lab" style="left:230.4px;width:300px;top:184.3px;letter-spacing:0.4px">Sound absorbing</div>
<div class="lab" style="left:232.3px;width:300px;top:214px;letter-spacing:0.45px">cotton blocks sound</div>
<div class="lab" style="left:558.9px;width:200px;top:245.5px;letter-spacing:0.7px">Penetrating</div>
<div class="lab" style="left:560.6px;width:200px;top:274.8px;letter-spacing:0.58px">sound</div>
</body></html>
